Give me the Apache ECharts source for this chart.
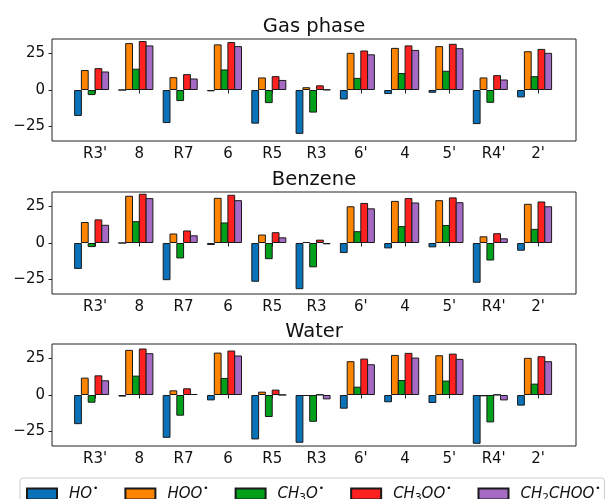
<!DOCTYPE html>
<html>
<head>
<meta charset="utf-8">
<script src="https://cdn.jsdelivr.net/npm/echarts@6/dist/echarts.min.js"></script>
<style>
  html, body { margin: 0; padding: 0; background: #fff; }
  #chart { width: 606px; height: 499px; }
</style>
</head>
<body>
<div id="chart"></div>
<script>
const categories = ["R3'", '8', 'R7', '6', 'R5', 'R3', "6'", '4', "5'", "R4'", "2'"]
const panelTitles = ['Gas phase', 'Benzene', 'Water']
const radicals = ['HO', 'HOO', 'CH3O', 'CH3OO', 'CH2CHOO']
const radicalLabels = [
  '{a|HO}{sup|•}',
  '{a|HOO}{sup|•}',
  '{a|CH}{sub|3}{i|O}{sup|•}',
  '{a|CH}{sub|3}{i|OO}{sup|•}',
  '{a|CH}{sub|2}{i|CHOO}{sup|•}'
]
const colors = ['#0a72b8', '#ff8400', '#02a01a', '#ff2020', '#a56bc4']
const yTicks = [-25, 0, 25]

const gasHO = [-17.8, 0, -22.7, -0.9, -23.1, -30.1, -6.5, -2.8, -1.9, -23.4, -5.1]
const gasHOO = [13.7, 32.2, 8.8, 31.3, 8.6, 1.9, 25.5, 28.9, 30.1, 8.6, 26.6]
const gasCH3O = [-3.5, 14.6, -7.6, 14.1, -9.0, -15.5, 8.3, 11.6, 13.2, -8.8, 9.5]
const gasCH3OO = [15.0, 33.6, 10.9, 32.9, 9.5, 3.2, 27.1, 30.6, 31.7, 10.2, 28.2]
const gasCH2CHOO = [12.7, 30.6, 7.9, 30.1, 6.9, 0.3, 24.5, 27.5, 28.7, 7.2, 25.5]

const benzHO = [-17.8, 0, -25.5, -1.4, -26.6, -31.7, -6.9, -3.7, -3.0, -27.3, -5.3]
const benzHOO = [14.4, 32.4, 6.5, 31.0, 5.8, 0.7, 25.2, 28.9, 29.4, 4.6, 26.9]
const benzCH3O = [-2.8, 15.0, -10.6, 14.1, -11.1, -16.7, 8.1, 11.6, 12.3, -12.0, 9.7]
const benzCH3OO = [16.2, 33.8, 8.6, 33.1, 7.4, 2.3, 27.5, 30.8, 31.3, 6.7, 28.5]
const benzCH2CHOO = [12.5, 30.8, 5.3, 29.4, 3.9, -0.9, 23.8, 27.8, 28.0, 3.2, 25.2]

const waterHO = [-20.0, -1.1, -29.4, -3.7, -30.5, -32.8, -9.4, -5.0, -5.5, -33.5, -7.3]
const waterHOO = [11.9, 31.0, 3.2, 29.1, 2.3, -0.7, 23.2, 27.5, 27.3, -0.9, 25.5]
const waterCH3O = [-5.3, 13.3, -14.2, 11.7, -15.1, -18.4, 5.7, 10.3, 9.9, -18.8, 7.8]
const waterCH3OO = [13.5, 31.9, 4.6, 30.5, 3.7, 0.3, 25.0, 28.9, 28.4, 0.2, 26.6]
const waterCH2CHOO = [10.1, 28.7, 0.7, 27.1, 0.1, -3.0, 21.1, 25.7, 24.8, -3.7, 23.2]

const panelData = [
  [gasHO, gasHOO, gasCH3O, gasCH3OO, gasCH2CHOO],
  [benzHO, benzHOO, benzCH3O, benzCH3OO, benzCH2CHOO],
  [waterHO, waterHOO, waterCH3O, waterCH3OO, waterCH2CHOO]
]

const font = 'DejaVu Sans'
const panelTops = [39, 192, 344]
const panelHeight = 102
const titleTops = [17, 170, 322]

const grid = []
const xAxis = []
const yAxis = []
const title = []
const series = []

panelTops.forEach((top, p) => {
  // frame with the y axis
  grid.push({ left: 52, right: 30, top: top, height: panelHeight, show: true, borderColor: '#222', borderWidth: 1, backgroundColor: 'transparent' })
  // bars
  grid.push({ left: 69.45, right: 49.25, top: top, height: panelHeight })
  // x tick labels (ticks sit half a bar right of the group centre)
  grid.push({ left: 72.85, right: 45.85, top: top, height: panelHeight })

  xAxis.push({ gridIndex: 3 * p, type: 'value', show: false, min: 0, max: 1 })
  yAxis.push({
    gridIndex: 3 * p,
    type: 'value',
    min: -35,
    max: 35,
    axisLine: { show: false },
    splitLine: { show: false },
    axisTick: { show: true, length: 3.5, lineStyle: { color: '#222' }, customValues: yTicks },
    axisLabel: {
      color: '#111', fontSize: 15, fontFamily: font, margin: 7,
      customValues: yTicks,
      formatter: v => String(v).replace('-', '\u2212')
    }
  })

  xAxis.push({ gridIndex: 3 * p + 1, type: 'category', data: categories, show: false })
  yAxis.push({ gridIndex: 3 * p + 1, type: 'value', min: -35, max: 35, show: false })

  xAxis.push({
    gridIndex: 3 * p + 2,
    type: 'category',
    data: categories,
    axisLine: { show: false },
    axisTick: { show: true, alignWithLabel: true, length: 3.5, lineStyle: { color: '#222' } },
    axisLabel: { color: '#111', fontSize: 15, fontFamily: font, margin: 6, interval: 0 }
  })
  yAxis.push({ gridIndex: 3 * p + 2, type: 'value', min: -35, max: 35, show: false })

  title.push({
    text: panelTitles[p],
    left: 314,
    top: titleTops[p],
    textAlign: 'center',
    padding: 0,
    textStyle: { fontFamily: font, fontSize: 19.5, fontWeight: 'normal', color: '#111' }
  })

  radicals.forEach((name, s) => {
    // bars overlap by one pixel so neighbouring edges share a single line
    series.push({
      name: name,
      type: 'bar',
      xAxisIndex: 3 * p + 1,
      yAxisIndex: 3 * p + 1,
      barWidth: 7.8,
      barGap: '-12.82%',
      itemStyle: { color: colors[s], borderColor: '#1a1a1a', borderWidth: 1 },
      emphasis: { disabled: true },
      data: panelData[p][s]
    })
  })
})

const option = {
  animation: false,
  backgroundColor: '#fff',
  title: title,
  grid: grid,
  xAxis: xAxis,
  yAxis: yAxis,
  legend: {
    data: radicals,
    left: 20,
    top: 478,
    width: 590,
    padding: [6, 4, 8, 6],
    itemWidth: 30,
    itemHeight: 11,
    itemGap: 26,
    borderColor: '#ccc',
    borderWidth: 1,
    borderRadius: 3,
    backgroundColor: '#fff',
    icon: 'rect',
    formatter: name => radicalLabels[radicals.indexOf(name)],
    textStyle: {
      fontFamily: font,
      fontSize: 15,
      color: '#111',
      rich: {
        a: { fontFamily: font, fontStyle: 'italic', fontSize: 15, color: '#111', lineHeight: 20, verticalAlign: 'middle', padding: [0, 0, 0, 7] },
        i: { fontFamily: font, fontStyle: 'italic', fontSize: 15, color: '#111', lineHeight: 20, verticalAlign: 'middle' },
        sub: { fontFamily: font, fontSize: 10.5, color: '#111', lineHeight: 20, verticalAlign: 'bottom' },
        sup: { fontFamily: font, fontSize: 9, color: '#111', lineHeight: 20, verticalAlign: 'top', padding: [0, 0, 0, 1] }
      }
    }
  },
  series: series
}

const chart = echarts.init(document.getElementById('chart'))
chart.setOption(option)
</script>
</body>
</html>
